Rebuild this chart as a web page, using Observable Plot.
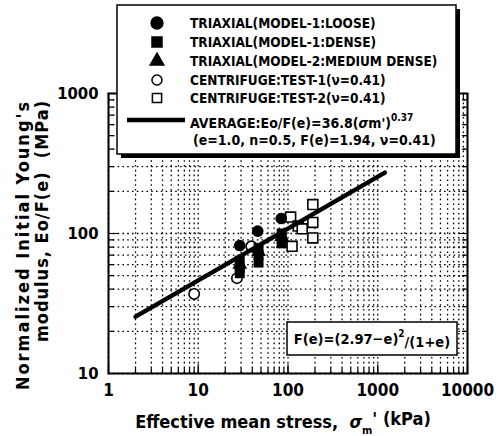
<!DOCTYPE html>
<html><head><meta charset="utf-8">
<script src="https://cdn.jsdelivr.net/npm/d3@7"></script>
<script src="https://cdn.jsdelivr.net/npm/@observablehq/plot@0.6"></script>
<style>body{margin:0;background:#fff} svg{display:block}</style>
</head><body><div id="chart"></div>
<script>
// ---- data ----
const xTicks = [1, 10, 100, 1000, 10000];
const yTicks = [10, 100, 1000];
const looseX = [29, 46, 84];            const looseY = [82, 104, 128];
const denseX = [29, 29, 29, 47, 47, 47, 85, 85, 85];
const denseY = [64, 57, 52, 79, 70, 62, 100, 91, 85];
const mediumX = [29, 47, 85];           const mediumY = [60, 74, 95];
const cf1X = [9, 27, 39];               const cf1Y = [37, 48, 81];
const cf2X = [107, 111, 130, 144, 189, 189, 189];
const cf2Y = [131, 81, 113, 108, 161, 120, 93];
const avgX = [2, 1200];                 const avgY = [25.5, 272];
const legendLabels = [
  "TRIAXIAL(MODEL-1:LOOSE)",
  "TRIAXIAL(MODEL-1:DENSE)",
  "TRIAXIAL(MODEL-2:MEDIUM DENSE)",
  "CENTRIFUGE:TEST-1(\u03BD=0.41)",
  "CENTRIFUGE:TEST-2(\u03BD=0.41)"
];

const FONT = "'DejaVu Sans Condensed', 'Liberation Sans', sans-serif";
const pts = (xs, ys) => xs.map((x, i) => ({x, y: ys[i]}));
const mult = [1,2,3,4,5,6,7,8,9];
const xMinor = [1,10,100,1000].flatMap(d => mult.map(m => m*d)).concat([10000]);
const yMinor = [10,100].flatMap(d => mult.map(m => m*d)).concat([1000]);
const line = {draw(ctx, l) { ctx.moveTo(0, 0); ctx.lineTo(0, -l); }};
const tk = (data, k, anchor, rot, len) => Plot.vector(data, {
  [k]: d => d, frameAnchor: anchor, rotate: rot, length: len, anchor: "start",
  shape: line, stroke: "#000", strokeWidth: 1.2
});

const chart = Plot.plot({
  width: 502, height: 436,
  marginLeft: 108, marginRight: 35, marginTop: 93, marginBottom: 63,
  x: {type: "log", domain: [1, 10000], label: null},
  y: {type: "log", domain: [10, 1000], label: null},
  style: {fontFamily: FONT, background: "#fff", color: "#000"},
  marks: [
    Plot.gridX(xMinor, {stroke: "#000", strokeOpacity: 1, strokeDasharray: "1.6,3.2", strokeWidth: 1.3}),
    Plot.gridY(yMinor, {stroke: "#000", strokeOpacity: 1, strokeDasharray: "1.6,3.2", strokeWidth: 1.3}),
    tk(xMinor, "x", "bottom", 0, 5), tk(xTicks, "x", "bottom", 0, 9),
    tk(xMinor, "x", "top", 180, 5), tk(xTicks, "x", "top", 180, 9),
    tk(yMinor, "y", "left", 90, 5), tk(yTicks, "y", "left", 90, 9),
    tk(yMinor, "y", "right", 270, 5), tk(yTicks, "y", "right", 270, 9),
    Plot.frame({stroke: "#000", strokeWidth: 2}),
    Plot.axisX(xTicks, {tickSize: 0, tickPadding: 10, fontSize: 17, fontWeight: "bold", label: null, tickFormat: d => String(d)}),
    Plot.axisY(yTicks, {tickSize: 0, tickPadding: 10, fontSize: 16.5, fontWeight: "bold", label: null, tickFormat: d => String(d)}),
    Plot.dot(pts(cf2X, cf2Y), {x: "x", y: "y", symbol: "square", r: 5.6, fill: "#fff", stroke: "#000", strokeWidth: 1.6}),
    Plot.dot(pts(cf1X, cf1Y), {x: "x", y: "y", symbol: "circle", r: 5.2, fill: "#fff", stroke: "#000", strokeWidth: 1.6}),
    Plot.dot(pts(denseX, denseY), {x: "x", y: "y", symbol: "square", r: 5.6, fill: "#000"}),
    Plot.dot(pts(mediumX, mediumY), {x: "x", y: "y", symbol: "triangle", r: 5.5, fill: "#000"}),
    Plot.dot(pts(looseX, looseY), {x: "x", y: "y", symbol: "circle", r: 5.8, fill: "#000"}),
    Plot.line(pts(avgX, avgY), {x: "x", y: "y", stroke: "#000", strokeWidth: 4.5})
  ]
});
document.getElementById("chart").append(chart);

// ---- legend, annotation and axis titles ----
const svg = d3.select(chart);
const g = svg.append("g").attr("font-family", FONT).attr("font-weight", "bold")
  .attr("fill", "#000").attr("text-anchor", "start");
g.append("rect").attr("x", 121).attr("y", 9).attr("width", 339).attr("height", 149).attr("fill", "#000");
g.append("rect").attr("x", 117).attr("y", 5).attr("width", 339).attr("height", 149)
  .attr("fill", "#fff").attr("stroke", "#000").attr("stroke-width", 1.5);
const rows = [23, 42, 61, 80, 98];
const syms = [
  {t: d3.symbolCircle, s: 110, fill: "#000"},
  {t: d3.symbolSquare, s: 100, fill: "#000"},
  {t: d3.symbolTriangle, s: 80, fill: "#000"},
  {t: d3.symbolCircle, s: 80, fill: "#fff"},
  {t: d3.symbolSquare, s: 85, fill: "#fff"}
];
legendLabels.forEach((lab, i) => {
  g.append("path").attr("d", d3.symbol(syms[i].t, syms[i].s)())
    .attr("transform", `translate(157,${rows[i]})`)
    .attr("fill", syms[i].fill).attr("stroke", "#000").attr("stroke-width", 1.5);
  g.append("text").attr("x", 190).attr("y", rows[i]).attr("dy", "0.36em")
    .attr("font-size", 13.5).text(lab);
});
g.append("line").attr("x1", 127).attr("x2", 185).attr("y1", 120).attr("y2", 120)
  .attr("stroke", "#000").attr("stroke-width", 4.5);
const t1 = g.append("text").attr("x", 190).attr("y", 123).attr("dy", "0.36em").attr("font-size", 14);
t1.append("tspan").text("AVERAGE:Eo/F(e)=36.8(");
t1.append("tspan").attr("font-style", "italic").text("\u03C3");
t1.append("tspan").text("m')");
t1.append("tspan").attr("font-size", 10).attr("dy", "-0.7em").text("0.37");
g.append("text").attr("x", 193).attr("y", 140).attr("dy", "0.36em").attr("font-size", 14)
  .text("(e=1.0, n=0.5, F(e)=1.94, \u03BD=0.41)");

g.append("rect").attr("x", 287).attr("y", 322).attr("width", 170).attr("height", 33)
  .attr("fill", "#fff").attr("stroke", "#000").attr("stroke-width", 1.5);
const tf = g.append("text").attr("x", 372).attr("y", 339).attr("dy", "0.36em")
  .attr("text-anchor", "middle").attr("font-size", 14.5);
tf.append("tspan").text("F(e)=(2.97\u2212e)");
tf.append("tspan").attr("font-size", 10).attr("dy", "-0.7em").text("2");
tf.append("tspan").attr("dy", "0.7em").text("/(1+e)");

const xt = g.append("text").attr("x", 283).attr("y", 422).attr("dy", "0.36em")
  .attr("text-anchor", "middle").attr("font-size", 18);
xt.append("tspan").text("Effective mean stress,  ");
xt.append("tspan").attr("font-style", "italic").text("\u03C3");
xt.append("tspan").attr("font-size", 11).attr("dy", "0.5em").text("m");
xt.append("tspan").attr("dy", "-0.5em").text("' (kPa)");

g.append("text").attr("transform", "translate(23,245) rotate(-90)").attr("dy", "0.36em")
  .attr("text-anchor", "middle").attr("font-size", 18).attr("letter-spacing", 2)
  .text("Normalized Initial Young's");
g.append("text").attr("transform", "translate(42,221) rotate(-90)").attr("dy", "0.36em")
  .attr("text-anchor", "middle").attr("font-size", 18).attr("letter-spacing", 1)
  .text("modulus, Eo/F(e)  (MPa)");
</script></body></html>
